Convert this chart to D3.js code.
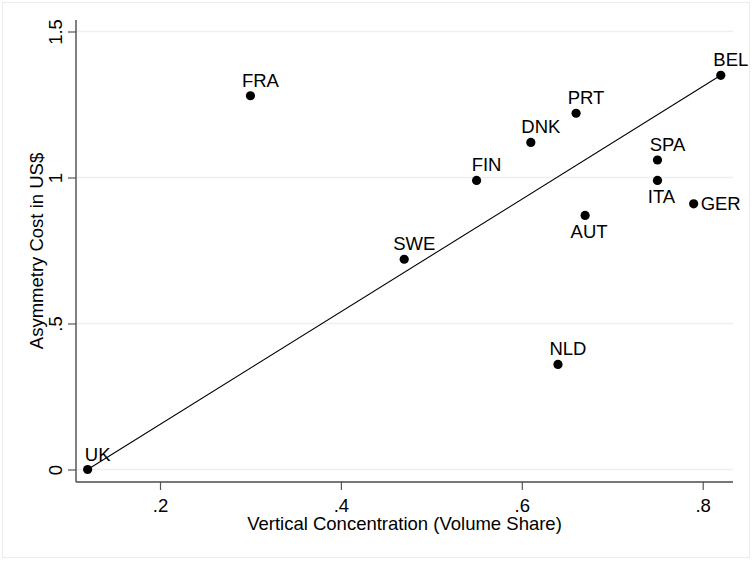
<!DOCTYPE html>
<html>
<head>
<meta charset="utf-8">
<script src="https://cdn.jsdelivr.net/npm/d3@7"></script>
<style>
  body { margin: 0; background: #fff; }
  text { font-family: "Liberation Sans", Arial, Helvetica, sans-serif; fill: #000; }
</style>
</head>
<body>
<div id="chart"></div>
<script>
// data
var countries     = ["UK", "FRA", "SWE", "FIN", "DNK", "PRT", "NLD", "AUT", "SPA", "ITA", "GER", "BEL"];
var concentration = [0.12, 0.30, 0.47, 0.55, 0.61, 0.66, 0.64, 0.67, 0.75, 0.75, 0.79, 0.82];
var asymCost      = [0.00, 1.28, 0.72, 0.99, 1.12, 1.22, 0.36, 0.87, 1.06, 0.99, 0.91, 1.35];
// marker label clock position (as in stata mlabvpos)
var labelClock    = [12, 12, 12, 12, 12, 12, 12, 6, 12, 6, 3, 12];
// fitted line end points
var fitX = [0.12, 0.82];
var fitY = [0.00, 1.35];
var xTicks = [0.2, 0.4, 0.6, 0.8];
var yTicks = [0, 0.5, 1, 1.5];
var xTitle = "Vertical Concentration (Volume Share)";
var yTitle = "Asymmetry Cost in US$";

var W = 752, H = 563;
var plotLeft = 76, plotRight = 733, plotTop = 20, plotBottom = 482;
var fs = 18.5;

var x = d3.scaleLinear().domain([0.2, 0.8]).range([160, 702.7]);
var y = d3.scaleLinear().domain([0, 1.5]).range([469.5, 31.5]);

var fmt = function(d) { return String(d).replace(/^0\./, "."); };

var svg = d3.select("#chart").append("svg")
    .attr("width", W)
    .attr("height", H);

// outer graph region frame
svg.append("rect")
    .attr("x", 2.5).attr("y", 2.5)
    .attr("width", W - 5).attr("height", 555)
    .attr("fill", "#fff")
    .attr("stroke", "#ececec");

// grid lines
svg.selectAll(".grid").data(yTicks).enter().append("line")
    .attr("class", "grid")
    .attr("x1", plotLeft).attr("x2", plotRight)
    .attr("y1", function(d) { return y(d); })
    .attr("y2", function(d) { return y(d); })
    .attr("stroke", "#eaf1f3")
    .attr("stroke-width", 1.6);

// x axis
var gx = svg.append("g")
    .attr("transform", "translate(0," + plotBottom + ")")
    .call(d3.axisBottom(x).tickValues(xTicks).tickFormat(fmt).tickSize(8).tickSizeOuter(0));
gx.select(".domain").remove();
gx.selectAll(".tick line").attr("stroke", "#555").attr("stroke-width", 1.2);
gx.selectAll(".tick text")
    .attr("y", 29.7).attr("dy", null)
    .style("font-size", fs + "px")
    .style("font-family", "'Liberation Sans', Arial, sans-serif")
    .attr("fill", "#000");

// y axis
var gy = svg.append("g")
    .attr("transform", "translate(" + plotLeft + ",0)")
    .call(d3.axisLeft(y).tickValues(yTicks).tickFormat(fmt).tickSize(8).tickSizeOuter(0));
gy.select(".domain").remove();
gy.selectAll(".tick line").attr("stroke", "#555").attr("stroke-width", 1.2);
gy.selectAll(".tick text")
    .attr("transform", "rotate(-90)")
    .attr("x", 0).attr("y", -14).attr("dy", null)
    .attr("text-anchor", "middle")
    .style("font-size", fs + "px")
    .style("font-family", "'Liberation Sans', Arial, sans-serif")
    .attr("fill", "#000");

// axis lines
svg.append("line")
    .attr("x1", plotLeft).attr("x2", plotRight).attr("y1", plotBottom).attr("y2", plotBottom)
    .attr("stroke", "#4a4a4a").attr("stroke-width", 1.4);
svg.append("line")
    .attr("x1", plotLeft).attr("x2", plotLeft).attr("y1", plotTop).attr("y2", plotBottom)
    .attr("stroke", "#4a4a4a").attr("stroke-width", 1.4);

// fitted line
svg.append("line")
    .attr("x1", x(fitX[0])).attr("y1", y(fitY[0]))
    .attr("x2", x(fitX[1])).attr("y2", y(fitY[1]))
    .attr("stroke", "#000")
    .attr("stroke-width", 1.1);

// points
var pts = countries.map(function(c, i) {
    return { name: c, cx: concentration[i], cy: asymCost[i], pos: labelClock[i] };
});

svg.selectAll(".dot").data(pts).enter().append("circle")
    .attr("class", "dot")
    .attr("cx", function(d) { return x(d.cx); })
    .attr("cy", function(d) { return y(d.cy); })
    .attr("r", 4.6)
    .attr("fill", "#000");

svg.selectAll(".lab").data(pts).enter().append("text")
    .attr("class", "lab")
    .attr("x", function(d) {
        if (d.pos == 3) return x(d.cx) + 7;
        if (d.pos == 6) return x(d.cx) + 4;
        return x(d.cx) + 10;
    })
    .attr("y", function(d) {
        if (d.pos == 3) return y(d.cy) + 6.5;
        if (d.pos == 6) return y(d.cy) + 23;
        return y(d.cy) - 9;
    })
    .attr("text-anchor", function(d) { return d.pos == 3 ? "start" : "middle"; })
    .style("font-size", fs + "px")
    .text(function(d) { return d.name; });

// titles
svg.append("text")
    .attr("x", (plotLeft + plotRight) / 2)
    .attr("y", 530)
    .attr("text-anchor", "middle")
    .style("font-size", fs + "px")
    .text(xTitle);

svg.append("text")
    .attr("transform", "translate(43," + ((plotTop + plotBottom) / 2) + ") rotate(-90)")
    .attr("text-anchor", "middle")
    .style("font-size", fs + "px")
    .text(yTitle);
</script>
</body>
</html>
